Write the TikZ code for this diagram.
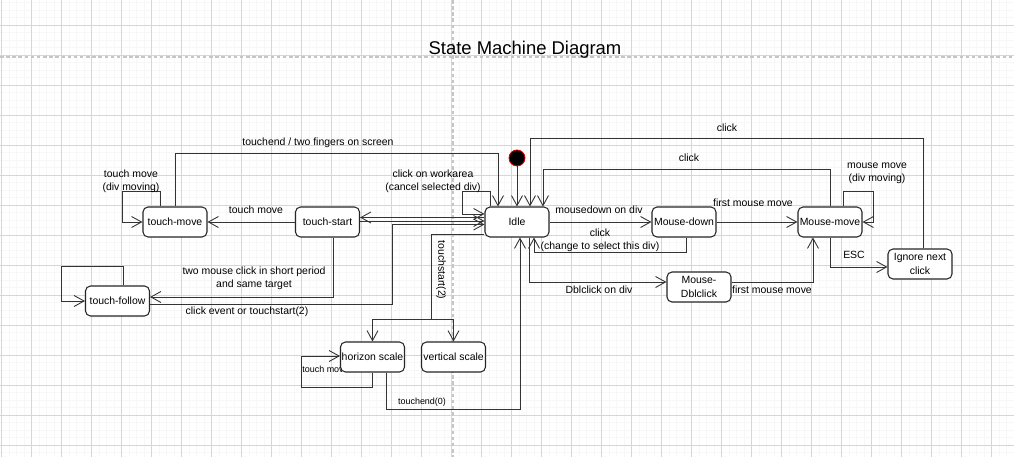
\documentclass[tikz,border=0pt]{standalone}
\usepackage{fontspec}
\setmainfont{Liberation Sans}
\usetikzlibrary{arrows.meta,calc}
\newcommand\lbl{\fontsize{5.95}{7.6}\selectfont}
\newcommand\smalllbl{\fontsize{5.1}{6.2}\selectfont}
\newcommand\ttl{\fontsize{10.5}{12}\selectfont}
\begin{document}
\begin{tikzpicture}[x=0.2mm,y=-0.2mm,
  every node/.style={font=\lbl, text=black},
  state/.style={draw=black!85, fill=white, rounded corners=1mm, minimum width=12.8mm, minimum height=6mm, inner sep=0pt, align=center, line width=0.6pt},
  conn/.style={draw=black!80, line width=0.55pt},
  arr/.style={conn, -{Straight Barb[length=2mm,width=2.2mm,line width=0.5pt]}},
  lab/.style={align=center, inner sep=0pt},
  minorgrid/.style={draw=gray!6, line width=0.4pt},
  majorgrid/.style={draw=gray!32, line width=0.4pt},
  pagebreak/.style={draw=gray!45, line width=0.9pt, dash pattern=on 2pt off 1.5pt}]
% background and bounding box
\fill[white] (0,0) rectangle (1014,457);
\useasboundingbox (0,0) rectangle (1014,457);
\foreach \i in {0,...,134} \draw[minorgrid] ({1.7+7.5*\i},0) -- ++(0,457);
\foreach \i in {0,...,60} \draw[minorgrid] (0,{2.5+7.5*\i}) -- ++(1014,0);
\foreach \i in {0,...,33} \draw[majorgrid] ({1.7+30*\i},0) -- ++(0,457);
\foreach \i in {0,...,14} \draw[majorgrid] (0,{25+30*\i}) -- ++(1014,0);
\draw[pagebreak] (0,57) -- (1014,57);
\draw[pagebreak] (453,0) -- (453,457);

% title
\node[font=\ttl, inner sep=0pt] (title) at (525,50) {State Machine Diagram};

% label hidden behind the horizon scale box
\node[font=\smalllbl, anchor=west, inner sep=0pt] (tmlabel) at (302,369) {touch move};

% states
\node[state] (tmove) at (175,222) {touch-move};
\node[state] (tstart) at (327.5,222) {touch-start};
\node[state] (tfollow) at (117.5,301) {touch-follow};
\node[state] (idle) at (517,222) {Idle};
\node[state] (mdown) at (684,222) {Mouse-down};
\node[state] (mmove) at (830,222) {Mouse-move};
\node[state] (ignore) at (920,264) {Ignore next\\click};
\node[state] (mdbl) at (699,287) {Mouse-\\Dblclick};
\node[state] (hscale) at (372.5,357) {horizon scale};
\node[state] (vscale) at (453.5,357) {vertical scale};
\node[circle, fill=black, draw={rgb,255:red,210;green,0;blue,0}, line width=0.5pt, minimum size=3.2mm, inner sep=0pt] (init) at (517,158) {};

% connectors
\draw[arr] (init) -- (idle.north);
\draw[arr] (tmove.north) |- ($(idle.north)+(-19,-53)$) -- ($(idle.north)+(-19,0)$);
\node[lab] (l1) at (318,143) {touchend / two fingers on screen};
\draw[arr] ($(tmove.north)+(-15,0)$) -- ++(0,-15) -| ($(tmove.west)+(-20,0)$) -- (tmove.west);
\node[lab] (l2) at (131,181) {touch move\\(div moving)};
\draw[arr] (tstart) -- (tmove);
\node[lab] (l3) at (256,210) {touch move};
\draw[arr] ($(idle.west)+(0,-4.5)$) -- ($(tstart.east)+(0,-4.5)$);
\draw[arr] ($(tstart.east)+(0,-1)$) -- ($(idle.west)+(0,-1)$);
\draw[arr] ($(tstart.south)+(5.5,0)$) |- ($(tfollow.east)+(0,-4)$);
\node[lab] (l4) at (254,278) {two mouse click in short period\\and same target};
\draw[arr] ($(tfollow.east)+(0,3)$) -| ($(idle.west)+(-92,2.5)$) -- ($(idle.west)+(0,2.5)$);
\node[lab] (l5) at (247,312) {click event or touchstart(2)};
\draw[arr] ($(tfollow.north)+(5.5,0)$) -- ++(0,-19) -| ($(tfollow.west)+(-23,0)$) -- (tfollow.west);
\draw[arr] ($(idle.north)+(-27,0)$) -- ++(0,-15) -| ($(idle.west)+(-22,-8)$) -- ($(idle.west)+(0,-8)$);
\node[lab] (l6) at (433,181) {click on workarea\\(cancel selected div)};
\coordinate (split) at (431,319);
\draw[conn] ($(idle.west)+(0,12)$) -| (split);
\draw[arr] (split) -| (hscale.north);
\draw[arr] (split) -| (vscale.north);
\node[lab, rotate=-90] (l7) at (441,270) {touchstart(2)};
\draw[arr] (hscale.south) -- ++(0,15) -| ($(hscale.west)+(-38,-1)$) -- ($(hscale.west)+(0,-1)$);
\draw[arr] ($(hscale.south)+(13.5,0)$) |- ($(idle.south)+(3,172)$) -- ($(idle.south)+(3,0)$);
\node[lab, font=\smalllbl] (l8) at (422,402) {touchend(0)};
\draw[arr] (idle) -- (mdown);
\node[lab] (l9) at (599,210) {mousedown on div};
\draw[arr] ($(mdown.south)+(2,0)$) |- ($(idle.south)+(17,15)$) -- ($(idle.south)+(17,0)$);
\node[lab] (l10) at (600,240.5) {click\\(change to select this div)};
\draw[arr] ($(idle.south)+(12,0)$) |- ($(mdbl.west)+(0,-5)$);
\node[lab] (l11) at (599,290) {Dblclick on div};
\draw[arr] (mdown) -- (mmove);
\node[lab] (l12) at (753,203) {first mouse move};
\draw[arr] ($(mdbl.east)+(0,-5)$) -| ($(mmove.south)+(-17,0)$);
\node[lab] (l13) at (772,290) {first mouse move};
\draw[arr] ($(mmove.north)+(13,0)$) -- ++(0,-15) -| ($(mmove.east)+(11,0)$) -- (mmove.east);
\node[lab] (l14) at (877,173) {mouse move\\(div moving)};
\draw[arr] (mmove.north) |- ($(idle.north)+(26,-37)$) -- ($(idle.north)+(26,0)$);
\node[lab] (l15) at (689,158) {click};
\draw[arr] (mmove.south) |- ($(ignore.west)+(0,3)$);
\node[lab] (l16) at (854,255) {ESC};
\draw[arr] ($(ignore.north)+(3,0)$) |- ($(idle.north)+(13,-68)$) -- ($(idle.north)+(13,0)$);
\node[lab] (l17) at (727,128) {click};
\end{tikzpicture}
\end{document}
